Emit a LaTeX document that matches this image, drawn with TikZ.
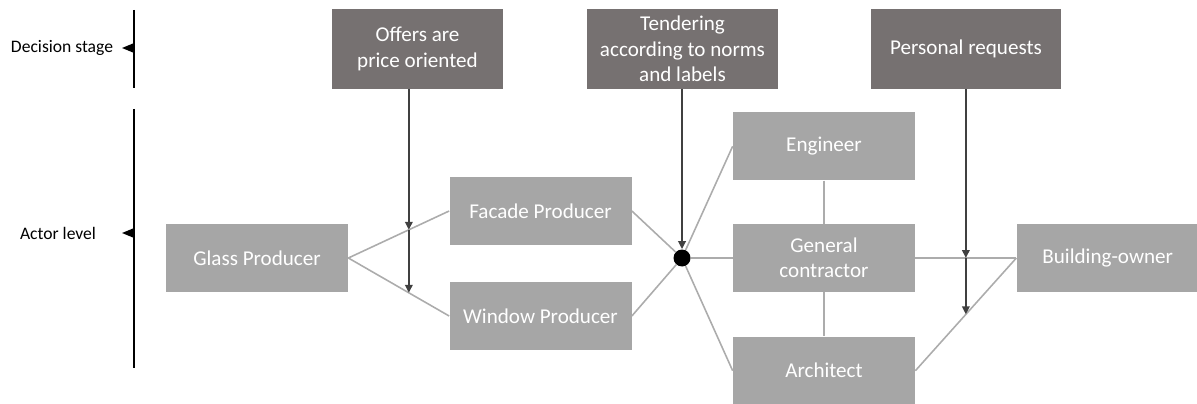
\documentclass[tikz,border=0pt]{standalone}
\usepackage{fontspec}
\setmainfont{Carlito}
\usetikzlibrary{arrows.meta,positioning,calc}
\definecolor{stagegray}{RGB}{118,113,113}
\definecolor{actorgray}{RGB}{166,166,166}
\definecolor{linkgray}{RGB}{172,172,172}
\definecolor{pushgray}{RGB}{64,64,64}
\tikzset{>=Triangle, link/.style={draw=linkgray, line width=0.9pt},
push/.style={draw=pushgray, line width=1.2pt, -{Triangle[length=1.6mm,width=1.5mm]}},
actor/.style={fill=actorgray, text=white, minimum width=36.4mm, minimum height=13.6mm, inner sep=1pt, align=center, font=\fontsize{12}{14.5}\selectfont},
stage/.style={fill=stagegray, text=white, minimum height=16mm, inner sep=1pt, align=center, font=\fontsize{12}{14.5}\selectfont},
level/.style={font=\fontsize{10}{12}\selectfont}}

\begin{document}
\begin{tikzpicture}[x=0.2mm, y=0.2mm]
\useasboundingbox (0,0) rectangle (1197,403);
% Levels
\draw[line width=0.8pt] (134,393) -- (134,315);
\draw[line width=0.8pt] (134,294) -- (134,35);
\node[level] (decision) at (62,355) {Decision stage};
\node[level] (actorlvl) at (58,170) {Actor level};
\coordinate (dmark) at (134,355);
\coordinate (amark) at (134,170);
\draw[-{Triangle[length=2.4mm,width=1.9mm]}, line width=0.8pt] (dmark) -- ++(-2.4mm,0);
\draw[-{Triangle[length=2.4mm,width=1.9mm]}, line width=0.8pt] (amark) -- ++(-2.4mm,0);

% Actors
\node[actor] (glass) at (257,145) {Glass Producer};
\node[actor] (facade) at (540.5,192) {Facade Producer};
\node[actor] (window) at (540.5,87) {Window Producer};
\node[circle, fill=black, inner sep=0pt, minimum size=3.4mm] (hub) at (682,145) {};
\node[actor] (general) at (824,145) {General\\contractor};
\node[actor, above=8.6mm of general] (engineer) {Engineer};
\node[actor, below=8.8mm of general] (architect) {Architect};
\node[actor, right=20.2mm of general] (owner) {Building-owner};

% Decision stage
\node[stage, minimum width=34.2mm] (offers) at (417.5,354) {Offers are\\price oriented};
\node[stage, minimum width=38.2mm] (tender) at (682.5,354) {Tendering\\according to norms\\and labels};
\node[stage, minimum width=38mm] (personal) at (966,354) {Personal requests};

% Links
\draw[link] (glass.east) -- (facade.west);
\draw[link] (glass.east) -- (window.west);
\draw[link] (facade.east) -- (hub);
\draw[link] (window.east) -- (hub);
\draw[link] (hub) -- (engineer.west);
\draw[link] (hub) -- (general.west);
\draw[link] (hub) -- (architect.west);
\draw[link] (engineer) -- (general);
\draw[link] (general) -- (architect);
\draw[link] (general.east) -- (owner.west);
\draw[link] (architect.east) -- (owner.west);

% Influences
\coordinate (of1) at ($(glass.east)!.6!(facade.west)$);
\coordinate (of2) at ($(glass.east)!.6!(window.west)$);
\draw[push] (offers.south -| of1) -- (of1);
\draw[push] (of1) -- (of2);
\draw[push] (tender.south -| hub) -- (hub.north);
\coordinate (pr1) at ($(general.east)!.5!(owner.west)$);
\coordinate (pr2) at ($(architect.east)!.5!(owner.west)$);
\draw[push] (personal.south -| pr1) -- (pr1);
\draw[push] (pr1) -- (pr2 -| pr1);
\end{tikzpicture}
\end{document}
